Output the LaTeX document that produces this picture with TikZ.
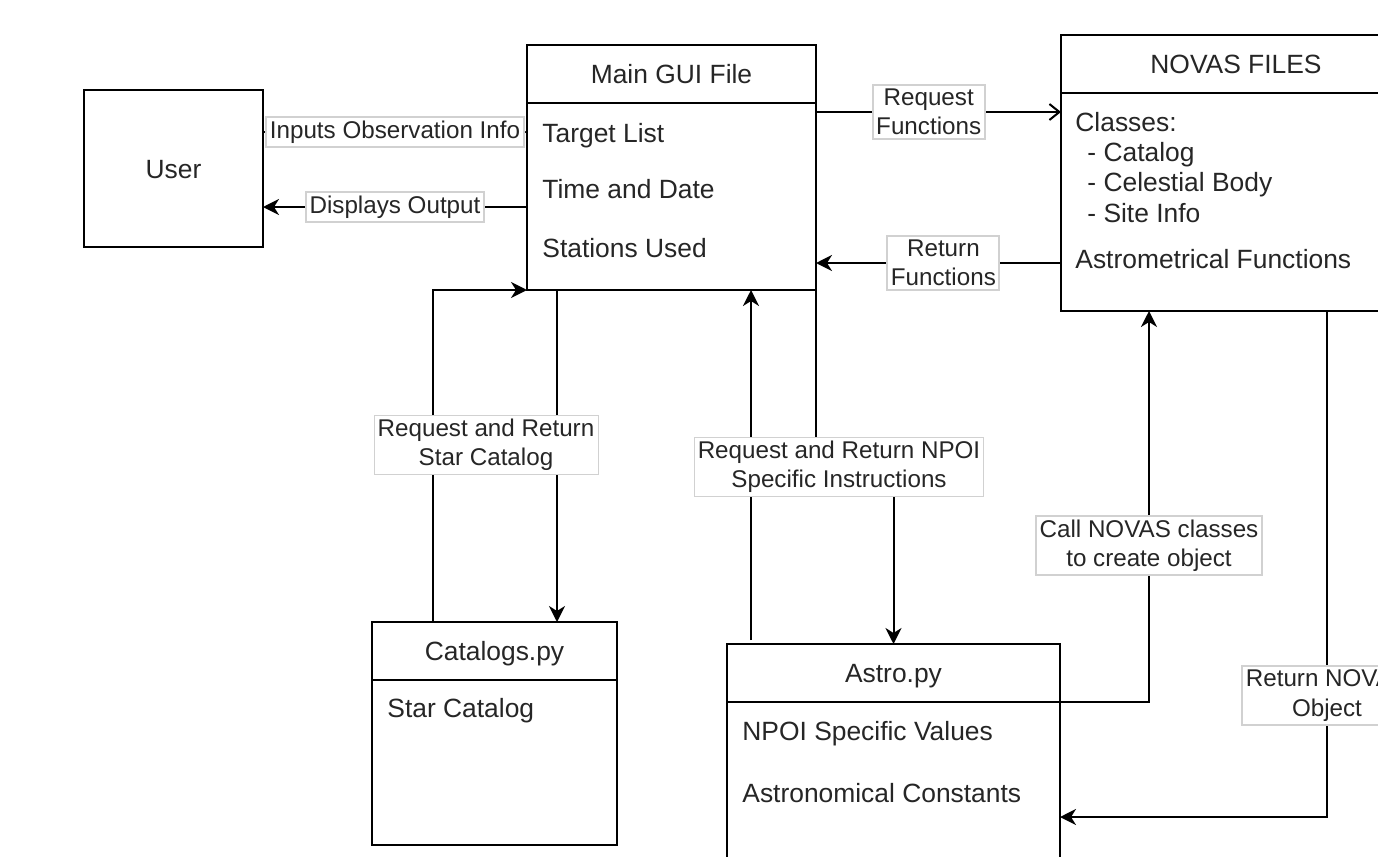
\documentclass[tikz,border=0pt]{standalone}
\usepackage{fontspec}
\setmainfont{Liberation Sans}
\usetikzlibrary{positioning, arrows.meta}

\newcommand{\boxfont}{\fontsize{13.2}{15.8}\selectfont}
\newcommand{\lblfont}{\fontsize{12.1}{14.6}\selectfont}

\begin{document}
\begin{tikzpicture}[
x=0.5pt, y=-0.5pt,
headbox/.style={draw,
  line width=1pt,
  fill=white,
  outer sep=0pt,
  minimum height=29pt,
  text height=9.6pt,
  text depth=0pt,
  font=\boxfont,
  text=black!85,
  anchor=north west
},
bodybox/.style={draw,
  line width=1pt,
  fill=white,
  outer sep=0pt,
  inner sep=0pt
},
item/.style={anchor=base west, inner sep=0pt, font=\boxfont, text=black!85},
lbl/.style={draw=black!18,
  fill=white,
  inner sep=1.8pt,
  align=center,
  font=\lblfont,
  text=black!85
},
arr/.style={line width=1pt, -{Stealth[length=8pt, width=8pt, inset=2.5pt]}},
openarr/.style={line width=1pt, -{Straight Barb[length=5pt, width=8pt]}}
]

\useasboundingbox (0,0) rectangle (1378,857);
\clip (0,0) rectangle (1378,857);

% boxes
\node[headbox, minimum width=89.5pt, minimum height=78.5pt] (user) at (84,90)
    {User};

\node[headbox, minimum width=144.5pt] (mainT) at (527,45)
    {Main GUI File};
\node[bodybox, minimum width=144.5pt, minimum height=93.5pt, below=0pt of mainT] (main) {};

\node[headbox, minimum width=175pt] (novasT) at (1061,35)
    {NOVAS FILES};
\node[bodybox, minimum width=175pt, minimum height=109pt, below=0pt of novasT] (novas) {};

\node[headbox, minimum width=122.5pt] (catT) at (372,622)
    {Catalogs.py};
\node[bodybox, minimum width=122.5pt, minimum height=82.5pt, below=0pt of catT] (cat) {};

\node[headbox, minimum width=166.5pt] (astroT) at (727,644)
    {Astro.py};
\node[bodybox, minimum width=166.5pt, minimum height=94pt, below=0pt of astroT] (astro) {};

% box contents
\node[item] (tlist) at (542,142) {Target List};
\node[item] (tdate) at (542,198) {Time and Date};
\node[item] (stations) at (542,257) {Stations Used};

\node[item] (classes) at (1075,131) {Classes:};
\node[item] (ccat) at (1087,161) {- Catalog};
\node[item] (cbody) at (1087,191) {- Celestial Body};
\node[item] (csite) at (1087,222) {- Site Info};
\node[item] (afunc) at (1075,268) {Astrometrical Functions};

\node[item] (starcat) at (387,717) {Star Catalog};

\node[item] (npoival) at (742,740) {NPOI Specific Values};
\node[item] (aconst) at (742,802) {Astronomical Constants};

% user <-> main
\coordinate (u1) at ([yshift=18.25pt]user.east);
\draw[arr] (u1) -- node[lbl] (lblin) {Inputs Observation Info} (u1 -| main.west);
\coordinate (u2) at ([yshift=-19.25pt]user.east);
\draw[arr] (u2 -| main.west) -- node[lbl] (lblout) {Displays Output} (u2);

% main <-> novas
\coordinate (m1) at ([yshift=42.25pt]main.east);
\draw[openarr] (m1) -- node[lbl, pos=0.46] (lblreq) {Request\\Functions} (m1 -| novas.west);
\coordinate (m2) at ([yshift=-33.25pt]main.east);
\draw[arr] (m2 -| novas.west) -- node[lbl, pos=0.48] (lblret) {Return\\Functions} (m2);

% main <-> catalogs
\coordinate (c1) at ([xshift=-30.75pt]catT.north);
\draw[arr] (c1) |- (main.south west);
\coordinate (c2) at ([xshift=15pt]main.south west);
\draw[arr] (c2) -- (c2 |- catT.north);
\node[lbl] (lblcat) at (486,444.5) {Request and Return\\Star Catalog};

% main <-> astro
\coordinate (a1) at ([xshift=12pt, yshift=2pt]astroT.north west);
\draw[arr] (a1) -- (a1 |- main.south);
\coordinate (a2) at ([yshift=-88pt]main.south east);
\draw[arr] (main.south east) -- (a2) -| (astroT.north);
\node[lbl] (lblnpoi) at (839,467) {Request and Return NPOI\\Specific Instructions};

% astro <-> novas
\coordinate (n1) at ([xshift=44pt]novas.south west);
\draw[arr] (astroT.south east) -| node[lbl, pos=0.7] (lblcall) {Call NOVAS classes\\to create object} (n1);
\coordinate (n2) at ([xshift=133pt]novas.south west);
\draw[arr] (n2) |- node[lbl, pos=0.38] (lblobj) {Return NOVAS\\Object} ([yshift=-57.5pt]astro.north east);
\end{tikzpicture}
\end{document}
